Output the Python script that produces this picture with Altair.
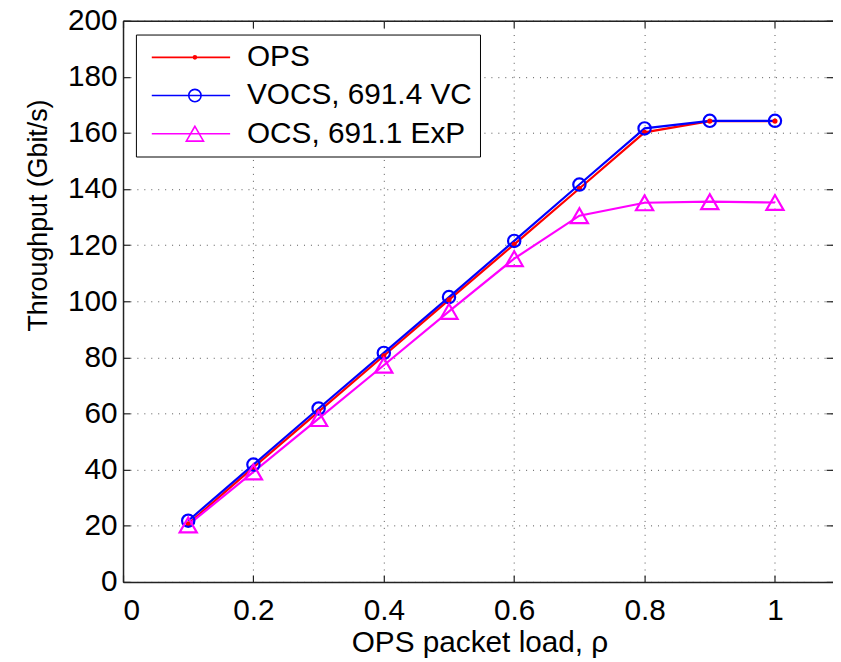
import altair as alt
import pandas as pd

# ---- data ----
load = [0.1, 0.2, 0.3, 0.4, 0.5, 0.6, 0.7, 0.8, 0.9, 1.0]
ops = [20.7, 40.8, 60.7, 80.6, 100.5, 120.3, 140.2, 160.2, 164.2, 164.2]
vocs = [21.8, 41.8, 61.8, 81.6, 101.5, 121.5, 141.6, 161.6, 164.3, 164.3]
ocs = [20.3, 39.2, 58.2, 77.2, 96.4, 115.2, 130.5, 135.1, 135.5, 135.2]
series_names = ["OPS", "VOCS, 691.4 VC", "OCS, 691.1 ExP"]
series_colors = ["#ff0000", "#0000ff", "#ff00ff"]
x_ticks = [0, 0.2, 0.4, 0.6, 0.8, 1.0]
y_ticks = [0, 20, 40, 60, 80, 100, 120, 140, 160, 180, 200]

rows = []
for name, vals in zip(series_names, [ops, vocs, ocs]):
    for xv, yv in zip(load, vals):
        rows.append({"load": xv, "tp": yv, "series": name, "mk": name + " "})
df = pd.DataFrame(rows)

FONT = "Liberation Sans"
X_DOMAIN = [0, 1.089]
Y_DOMAIN = [0, 200]
W, H = 716, 566

xs = alt.Scale(domain=X_DOMAIN, nice=False, zero=False)
ys = alt.Scale(domain=Y_DOMAIN, nice=False)

main_x_axis = alt.Axis(
    orient="bottom", values=x_ticks, format="~g", ticks=False, tickSize=0,
    labelPadding=14, labelFontSize=30, labelFont=FONT, labelColor="black",
    domain=True, domainColor="#222222", domainWidth=1.5,
    grid=True, gridColor="#555555", gridDash=[1, 6], gridWidth=1,
    title="OPS packet load, \u03c1", titleFont=FONT, titleFontSize=30,
    titleFontWeight="normal", titleColor="black", titleBaseline="alphabetic",
    titleX=359.5, titleY=70, titleAlign="center",
)
main_y_axis = alt.Axis(
    orient="left", values=y_ticks, format="d", ticks=False, tickSize=0,
    labelPadding=6, labelFontSize=30, labelFont=FONT, labelColor="black",
    domain=True, domainColor="#222222", domainWidth=1.5,
    grid=True, gridColor="#555555", gridDash=[1, 6], gridWidth=1,
    title="Throughput (Gbit/s)", titleFont=FONT, titleFontSize=27,
    titleFontWeight="normal", titleColor="black", titleAngle=270,
    titleBaseline="alphabetic", titleAlign="center", titleX=-77, titleY=196,
)

legA = alt.Legend(
    orient="none", legendX=13, legendY=14, title=None, columns=1,
    symbolType="stroke", symbolSize=6241, symbolStrokeWidth=1.6,
    symbolOffset=7, labelOffset=16, labelFontSize=30, labelFont=FONT,
    labelColor="black", labelLimit=500, padding=8, rowPadding=8.5,
    clipHeight=30, fillColor="white", strokeColor="black",
)
legB = alt.Legend(
    orient="none", legendX=13, legendY=14, title=None, columns=1,
    symbolStrokeWidth=1.6, symbolOffset=36.5, labelOffset=16,
    labelFontSize=30, labelFont=FONT, labelExpr="''", labelLimit=500,
    padding=8, rowPadding=8.5, clipHeight=30,
)

mk_names = [n + " " for n in series_names]

lines = alt.Chart(df).mark_line(strokeWidth=2.2).encode(
    x=alt.X("load:Q", scale=xs, axis=main_x_axis),
    y=alt.Y("tp:Q", scale=ys, axis=main_y_axis),
    color=alt.Color("series:N", scale=alt.Scale(domain=series_names, range=series_colors), legend=legA),
)

points = alt.Chart(df).mark_point(filled=False, strokeWidth=2.2, opacity=1).encode(
    x=alt.X("load:Q", scale=xs, axis=main_x_axis),
    y=alt.Y("tp:Q", scale=ys, axis=main_y_axis),
    stroke=alt.Stroke("mk:N", scale=alt.Scale(domain=mk_names, range=series_colors), legend=legB),
    fill=alt.Fill("mk:N", scale=alt.Scale(domain=mk_names, range=["#ff0000", "transparent", "transparent"]), legend=legB),
    shape=alt.Shape("mk:N", scale=alt.Scale(domain=mk_names, range=["circle", "circle", "triangle-up"]), legend=legB),
    size=alt.Size("mk:N", scale=alt.Scale(domain=mk_names, range=[9, 300, 400]), legend=legB),
)

data_layer = alt.layer(lines, points)

def tick_axis(orient):
    return alt.Axis(
        orient=orient, offset=-7, tickSize=7, ticks=True, tickColor="#222222",
        tickWidth=1.2, labels=False, domain=False, grid=False, title=None,
        values=x_ticks if orient in ("top", "bottom") else y_ticks,
    )

ticks_bl = alt.Chart(df).mark_point(opacity=0).encode(
    x=alt.X("load:Q", scale=xs, axis=tick_axis("bottom")),
    y=alt.Y("tp:Q", scale=ys, axis=tick_axis("left")),
)
ticks_tr = alt.Chart(df).mark_point(opacity=0).encode(
    x=alt.X("load:Q", scale=xs, axis=tick_axis("top")),
    y=alt.Y("tp:Q", scale=ys, axis=tick_axis("right")),
)
frame_top = alt.Chart(df).mark_point(opacity=0).encode(
    x=alt.X("load:Q", scale=xs, axis=alt.Axis(orient="top", ticks=False, labels=False, grid=False,
                                                 domain=True, domainColor="#222222", domainWidth=1.5,
                                                 title=None, values=x_ticks)),
    y=alt.Y("tp:Q", scale=ys, axis=None),
)

chart = alt.layer(data_layer, ticks_bl, ticks_tr, frame_top).resolve_scale(
    x="independent", y="independent"
).properties(
    width=W, height=H,
    autosize=alt.AutoSizeParams(type="none"),
    padding={"left": 116, "top": 10, "right": 0, "bottom": 76},
).configure_view(stroke=None).configure(background="white")

chart.save("out.html", embed_options={"renderer": "svg", "actions": False})
